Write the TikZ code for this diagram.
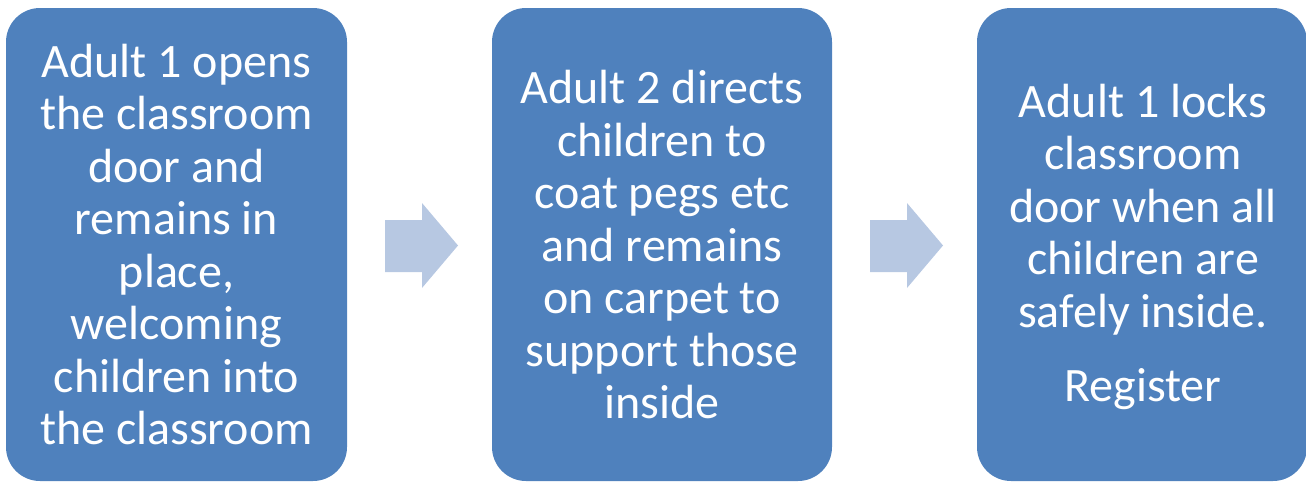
\documentclass[tikz,border=0pt]{standalone}
\usepackage{fontspec}
\setmainfont{Carlito}
\definecolor{boxblue}{HTML}{4F81BD}
\definecolor{arrowblue}{HTML}{B7C8E2}
\begin{document}
\begin{tikzpicture}[x=1pt,y=-1pt,
  stepbox/.style={fill=boxblue, draw=none, rounded corners=34pt},
  steptext/.style={text=white, align=center, font=\fontsize{48}{52.5}\selectfont, inner sep=0pt},
  arrowshape/.style={fill=arrowblue, draw=none}]
\useasboundingbox (0,0) rectangle (1306,482);
% boxes
\fill[stepbox] (6,8) rectangle (347,481);
\fill[stepbox] (492,8) rectangle (832,481);
\fill[stepbox] (977,8) rectangle (1307,481);
\node[steptext] (t1) at (176.5,244.5) {Adult 1 opens\\the classroom\\door and\\remains in\\place,\\welcoming\\children into\\the classroom};
\node[steptext] (t2) at (662,245) {Adult 2 directs\\children to\\coat pegs etc\\and remains\\on carpet to\\support those\\inside};
\node[steptext] (t3) at (1143,247) {Adult 1 locks\\classroom\\door when all\\children are\\safely inside.\\[22pt]Register};
% arrows
\fill[arrowshape] (385,220) -- (422,220) -- (422,203) -- (458,245.5) -- (422,288) -- (422,272) -- (385,272) -- cycle;
\fill[arrowshape] (870,220) -- (907,220) -- (907,203) -- (943,245.5) -- (907,288) -- (907,272) -- (870,272) -- cycle;
\end{tikzpicture}
\end{document}
